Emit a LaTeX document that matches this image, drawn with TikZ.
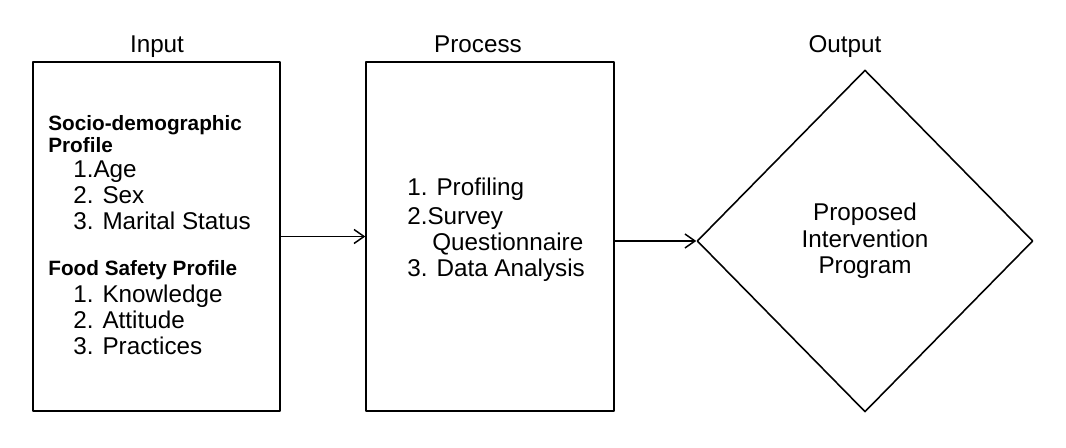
\documentclass[tikz,border=0pt]{standalone}
\usepackage{fontspec}
\setmainfont{Liberation Sans}
\usetikzlibrary{shapes.geometric, arrows.meta}
\begin{document}
\begin{tikzpicture}[x=0.02cm, y=-0.02cm, line join=round,
		box/.style={draw, line width=1.1pt, minimum width=4.95cm, minimum height=6.98cm, inner sep=0pt},
		dia/.style={draw, diamond, line width=0.9pt, minimum width=6.72cm, minimum height=6.84cm, inner sep=0pt, align=center},
		txt/.style={font=\fontsize{13.8}{14.8}\selectfont, inner sep=0pt},
		head/.style={font=\fontsize{11.8}{12.5}\selectfont\bfseries, inner sep=0pt, anchor=north west, align=left},
		lst/.style={txt, anchor=north west, align=left},
		arr/.style={line width=0.85pt, -{Straight Barb[length=2mm, width=2.8mm]}}]
			\useasboundingbox (0, 0) rectangle (1066, 448);
			% titles
			\node[txt, anchor=base] (tin)   at (157, 53) {Input};
			\node[txt, anchor=base] (tpro)  at (478, 53) {Process};
			\node[txt, anchor=base] (tout)  at (845, 53) {Output};
			% boxes
			\node[box] (inbox)   at (156.5, 236.5) {};
			\node[box] (procbox) at (490, 236.5) {};
			\node[dia, txt, draw, line width=0.9pt] (outd) at (865, 241) {Proposed\\[0.3pt]Intervention\\[0.3pt]Program};
			% input contents
			\node[head] (socio) at (48, 115) {Socio-demographic\\Profile};
			\node[lst] (sociolist) at (73, 160.5) {1.Age\\2. Sex\\3. Marital Status};
			\node[head] (food) at (48, 260) {Food Safety Profile};
			\node[lst] (foodlist) at (73, 284.5) {1. Knowledge\\2. Attitude\\3. Practices};
			% process contents
			\node[lst] (proclist) at (407, 177.5) {1. Profiling\\[1.5pt]2.Survey\\\hspace*{0.5cm}Questionnaire\\3. Data Analysis};
			% arrows
			\draw[arr] (inbox) -- (procbox);
			\draw[arr] (procbox.east |- outd.west) -- (outd.west);
		\end{tikzpicture}
\end{document}
